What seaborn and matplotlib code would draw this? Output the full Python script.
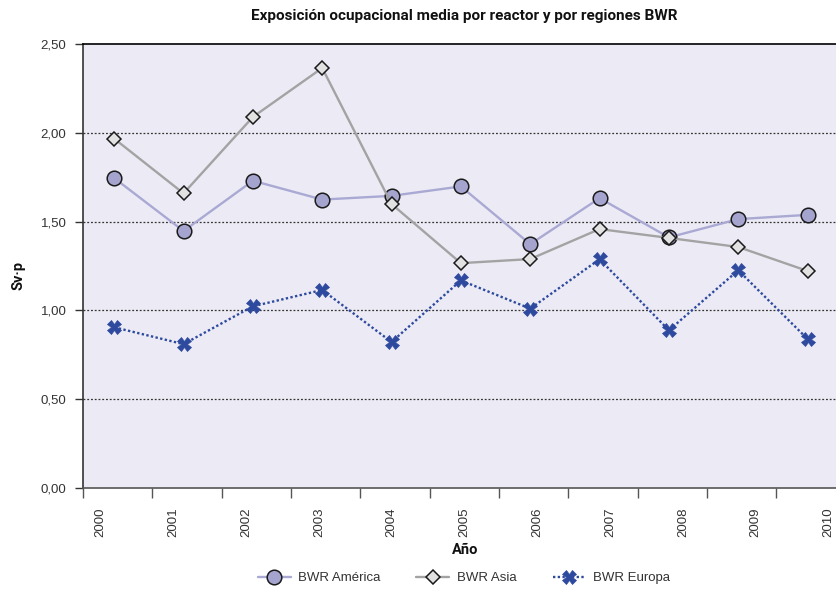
import numpy as np
import pandas as pd
import matplotlib
matplotlib.use("Agg")
import matplotlib.pyplot as plt
from matplotlib.lines import Line2D
import seaborn as sns

# Occupational exposure per reactor (Sv·p), BWR regions
years = ["2000", "2001", "2002", "2003", "2004", "2005", "2006", "2007", "2008", "2009", "2010"]
america = [1.745, 1.447, 1.730, 1.624, 1.645, 1.698, 1.373, 1.632, 1.411, 1.514, 1.538]
asia = [1.967, 1.659, 2.089, 2.365, 1.599, 1.266, 1.289, 1.458, 1.408, 1.357, 1.222]
europa = [0.905, 0.810, 1.023, 1.115, 0.822, 1.169, 1.010, 1.288, 0.888, 1.226, 0.839]
y_ticks = [0.0, 0.5, 1.0, 1.5, 2.0, 2.5]

sns.set_theme(style="white")
plt.rcParams["font.family"] = ["Liberation Sans", "DejaVu Sans"]
narrow = ["Liberation Sans Narrow", "Roboto", "DejaVu Sans"]

df = pd.DataFrame({"pos": np.arange(len(years)), "america": america,
                   "asia": asia, "europa": europa})

fig = plt.figure(figsize=(8.36, 5.89), dpi=100)
W, H = 836, 589
ax = fig.add_axes([83 / W, 1 - 488 / H, (W - 83) / W, (488 - 44) / H])
ax.set_facecolor("#ECEBF5")

c_am_line, c_am_face = "#A9A9D4", "#A4A4CF"
c_as_line, c_as_face = "#A3A3A3", "#E2E2E2"
c_eu = "#2E4A9E"
lw = 1.7

sns.lineplot(data=df, x="pos", y="america", ax=ax, color=c_am_line, lw=lw,
             marker="o", markersize=10.5, markerfacecolor=c_am_face,
             markeredgecolor="#1a1a1a", markeredgewidth=1.1, zorder=3)
sns.lineplot(data=df, x="pos", y="asia", ax=ax, color=c_as_line, lw=lw,
             marker="D", markersize=7.5, markerfacecolor=c_as_face,
             markeredgecolor="#1a1a1a", markeredgewidth=1.1, zorder=4)
sns.lineplot(data=df, x="pos", y="europa", ax=ax, color=c_eu, lw=lw,
             linestyle=(0, (1, 1)), marker="X", markersize=10,
             markerfacecolor=c_eu, markeredgecolor=c_eu, markeredgewidth=0.5,
             zorder=5)

# axes limits and grid
ax.set_xlim(-0.45, 10.41)
ax.set_ylim(0, 2.5)
ax.set_yticks(y_ticks)
ax.set_yticklabels([f"{v:.2f}".replace(".", ",") for v in y_ticks],
                   fontsize=9.5, color="#333333")
for v in y_ticks[1:-1]:
    ax.axhline(v, color="#333333", lw=0.9, linestyle=(0, (1.5, 1.5)), zorder=1)

# category boundaries as major ticks, year labels as minor ticks
ax.set_xticks(np.arange(len(years)) - 0.45)
ax.set_xticklabels([])
label_pos = -0.196 + 1.0497 * np.arange(len(years))
ax.set_xticks(label_pos, minor=True)
ax.set_xticklabels(years, minor=True, rotation=90, fontsize=9.5, color="#333333")
ax.tick_params(axis="x", which="major", direction="out", length=7, width=1,
               color="#555555", bottom=True)
ax.tick_params(axis="x", which="minor", length=0, pad=14, bottom=True)
ax.tick_params(axis="y", direction="out", length=6, width=1, color="#333333",
               pad=6, left=True)

ax.spines["right"].set_visible(False)
ax.spines["top"].set_color("#000000")
ax.spines["top"].set_linewidth(1.2)
ax.spines["left"].set_color("#333333")
ax.spines["left"].set_linewidth(1.2)
ax.spines["bottom"].set_color("#555555")
ax.spines["bottom"].set_linewidth(1.2)

ax.set_xlabel("Año", fontsize=10.5, fontweight="bold", family=narrow,
              color="#111111")
ax.xaxis.set_label_coords((465 - 83) / (W - 83), (488 - 543) / 444)
ax.set_ylabel("Sv·p", fontsize=10.5, fontweight="bold", family=narrow,
              color="#111111")
ax.yaxis.set_label_coords((25 - 83) / (W - 83), (488 - 275) / 444)

fig.text(464 / W, 1 - 9 / H,
         "Exposición ocupacional media por reactor y por regiones BWR",
         ha="center", va="top", fontsize=11, fontweight="bold", family=narrow,
         color="#111111")

if ax.get_legend() is not None:
    ax.get_legend().remove()
handles = [
    Line2D([], [], color=c_am_line, lw=lw, marker="o", markersize=10.5,
           markerfacecolor=c_am_face, markeredgecolor="#1a1a1a",
           markeredgewidth=1.1),
    Line2D([], [], color=c_as_line, lw=lw, marker="D", markersize=7.5,
           markerfacecolor=c_as_face, markeredgecolor="#1a1a1a",
           markeredgewidth=1.1),
    Line2D([], [], color=c_eu, lw=lw, linestyle=(0, (1, 1)), marker="X",
           markersize=10, markerfacecolor=c_eu, markeredgecolor=c_eu,
           markeredgewidth=0.5),
]
fig.legend(handles, ["BWR América", "BWR Asia", "BWR Europa"], loc="center",
           bbox_to_anchor=(464 / W, 1 - 578 / H), ncol=3, frameon=False,
           fontsize=9.5, handlelength=2.5, handletextpad=0.6, columnspacing=2.7,
           labelcolor="#333333")

fig.savefig("out.png", dpi=100, facecolor="white")
